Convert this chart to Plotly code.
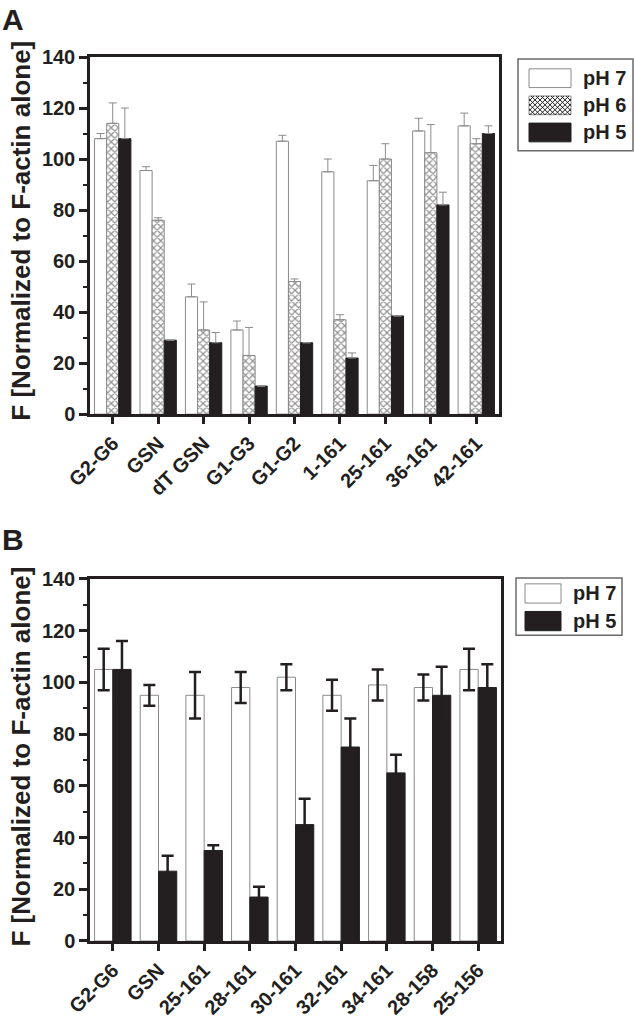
import plotly.graph_objects as go

# ---------------- data ----------------
categories_a = ["G2-G6", "GSN", "dT GSN", "G1-G3", "G1-G2", "1-161", "25-161", "36-161", "42-161"]
ph7_a = [108, 95.5, 46, 33, 107, 95, 91.5, 111, 113]
ph7_a_err = [2, 1.5, 5, 3.5, 2.3, 5, 6, 5, 5]
ph6_a = [114, 76, 33, 23, 52, 37, 100, 102.5, 106]
ph6_a_err = [8, 1, 11, 11, 1, 2, 6, 11, 2]
ph5_a = [108, 29, 28, 11, 28, 22, 38.5, 82, 110]
ph5_a_err = [12, None, 4, None, None, 2, None, 5, 3]

categories_b = ["G2-G6", "GSN", "25-161", "28-161", "30-161", "32-161", "34-161", "28-158", "25-156"]
ph7_b = [105, 95, 95, 98, 102, 95, 99, 98, 105]
ph7_b_err = [8, 4, 9, 6, 5, 6, 6, 5, 8]
ph5_b = [105, 27, 35, 17, 45, 75, 65, 95, 98]
ph5_b_err = [11, 6, 2, 4, 10, 11, 7, 11, 9]

series_a = ["pH 7", "pH 6", "pH 5"]
series_b = ["pH 7", "pH 5"]
y_ticks = [0, 20, 40, 60, 80, 100, 120, 140]
y_title = "F [Normalized to F-actin alone]"

# ---------------- layout geometry (pixels) ----------------
FIG_W, FIG_H = 634, 1031
L, R, T, B = 90, 501, 57, 953
PW, PH = R - L, B - T


def px_x(p):
    return (p - L) / PW


def px_y(p):
    return (B - p) / PH


INK = "#231f20"
GRAY = "#8a8a8a"
FONT = "Liberation Sans, Arial, Helvetica, sans-serif"

fig = go.Figure()

# ---------------- panel A ----------------
errA = dict(type="data", symmetric=False, color="#8c8c8c", thickness=1, width=4)
fig.add_trace(go.Bar(
    x=categories_a, y=ph7_a, name=series_a[0], xaxis="x", yaxis="y",
    marker=dict(color="white", line=dict(color=GRAY, width=1)),
    error_y=dict(errA, array=ph7_a_err, arrayminus=[0] * len(ph7_a)),
))
fig.add_trace(go.Bar(
    x=categories_a, y=ph6_a, name=series_a[1], xaxis="x", yaxis="y",
    marker=dict(color="white", line=dict(color=GRAY, width=1),
                pattern=dict(shape="x", fgcolor="#222222", bgcolor="white", size=5, solidity=0.42)),
    error_y=dict(errA, array=ph6_a_err, arrayminus=[0] * len(ph6_a)),
))
fig.add_trace(go.Bar(
    x=categories_a, y=ph5_a, name=series_a[2], xaxis="x", yaxis="y",
    marker=dict(color=INK, line=dict(color=INK, width=1)),
    error_y=dict(errA, array=ph5_a_err, arrayminus=[0] * len(ph5_a)),
))

# ---------------- panel B ----------------
errB = dict(type="data", symmetric=True, color=INK, thickness=2.5, width=6)
fig.add_trace(go.Bar(
    x=categories_b, y=ph7_b, name=series_b[0], xaxis="x2", yaxis="y2",
    marker=dict(color="white", line=dict(color=GRAY, width=1)),
    error_y=dict(errB, array=ph7_b_err),
))
fig.add_trace(go.Bar(
    x=categories_b, y=ph5_b, name=series_b[1], xaxis="x2", yaxis="y2",
    marker=dict(color=INK, line=dict(color=INK, width=1)),
    error_y=dict(errB, array=ph5_b_err),
))

tickfont = dict(family=FONT, size=20, color=INK, weight="bold")

common_x = dict(
    type="category", showline=True, linecolor=INK, linewidth=2.5, mirror=True,
    ticks="outside", ticklen=7, tickwidth=2.5, tickcolor=INK, tickangle=-45,
    tickfont=tickfont, showgrid=False, zeroline=False, fixedrange=True,
)
common_y = dict(
    range=[0, 140], tickvals=y_ticks, showline=True, linecolor=INK, linewidth=2.5, mirror=True,
    ticks="outside", ticklen=8, tickwidth=2.5, tickcolor=INK, tickfont=tickfont,
    minor=dict(dtick=10, ticks="outside", ticklen=4, tickwidth=2, tickcolor=INK),
    showgrid=False, zeroline=False, fixedrange=True,
)

domA_x = [0, px_x(499)]
domA_y = [px_y(419), 1]
domB_x = [0, 1]
domB_y = [0, px_y(586)]

bounds_a = [i + 0.5 for i in range(len(categories_a) - 1)]
bounds_b = [i + 0.5 for i in range(len(categories_b) - 1)]


def deco_x(overlay, anchor, bounds, n, side_ticks):
    return dict(overlaying=overlay, anchor=anchor, type="linear", range=[-0.5, n - 0.5],
                tickmode="array", tickvals=bounds, ticks=side_ticks, ticklen=4, tickwidth=2,
                tickcolor=INK, showticklabels=False, showline=False, showgrid=False,
                zeroline=False, fixedrange=True)


fig.update_layout(
    width=FIG_W, height=FIG_H,
    margin=dict(l=L, r=FIG_W - R, t=T, b=FIG_H - B),
    paper_bgcolor="white", plot_bgcolor="white",
    barmode="group", bargap=0.2, bargroupgap=0,
    showlegend=False,
    font=dict(family=FONT, color=INK),
    xaxis=dict(common_x, domain=domA_x, anchor="y", categoryarray=categories_a),
    yaxis=dict(common_y, domain=domA_y, anchor="x"),
    xaxis2=dict(common_x, domain=domB_x, anchor="y2", categoryarray=categories_b),
    yaxis2=dict(common_y, domain=domB_y, anchor="x2"),
    xaxis3=deco_x("x", "y", bounds_a, len(categories_a), "outside"),
    xaxis4=deco_x("x", "y", bounds_a, len(categories_a), "inside"),
    xaxis5=deco_x("x2", "y2", bounds_b, len(categories_b), "outside"),
    xaxis6=deco_x("x2", "y2", bounds_b, len(categories_b), "inside"),
    yaxis3=dict(overlaying="y", anchor="x", side="right", range=[0, 140],
                tickmode="array", tickvals=[10, 30, 50, 70, 90, 110, 130], ticks="inside",
                ticklen=5, tickwidth=2, tickcolor=INK, showticklabels=False,
                showline=False, showgrid=False, zeroline=False, fixedrange=True),
)

# ---------------- titles / panel letters ----------------
annos = []
annos.append(dict(text="<b>A</b>", x=px_x(0), y=px_y(19), xref="paper", yref="paper",
                  xanchor="left", yanchor="middle", showarrow=False,
                  font=dict(family=FONT, size=30, color=INK)))
annos.append(dict(text="<b>B</b>", x=px_x(0), y=px_y(546), xref="paper", yref="paper",
                  xanchor="left", yanchor="middle", showarrow=False,
                  font=dict(family=FONT, size=30, color=INK)))
for yc in (233, 766):
    annos.append(dict(text="<b>" + y_title + "</b>", x=px_x(21), y=px_y(yc), xref="paper", yref="paper",
                      xanchor="center", yanchor="middle", textangle=-90, showarrow=False,
                      font=dict(family=FONT, size=26, color=INK)))

# ---------------- manual legends ----------------
shapes = []


def rect(x0, y0, x1, y1, fill, line_color, lw):
    shapes.append(dict(type="rect", xref="paper", yref="paper",
                       x0=px_x(x0), x1=px_x(x1), y0=px_y(y1), y1=px_y(y0),
                       fillcolor=fill, line=dict(color=line_color, width=lw), layer="above"))


def hatch(x0, y0, x1, y1, step=5):
    w, h = x1 - x0, y1 - y0
    segs = []
    k = -w
    while k <= h:
        a, b = max(0, -k), min(w, h - k)
        if b > a:
            segs.append(((a, a + k), (b, b + k)))
        k += step
    k = 0
    while k <= w + h:
        a, b = max(0, k - h), min(w, k)
        if b > a:
            segs.append(((a, k - a), (b, k - b)))
        k += step
    path = ""
    for (ax, ay), (bx, by) in segs:
        path += "M%.5f,%.5f L%.5f,%.5f " % (px_x(x0 + ax), px_y(y0 + ay), px_x(x0 + bx), px_y(y0 + by))
    shapes.append(dict(type="path", xref="paper", yref="paper", path=path,
                       line=dict(color="#222222", width=1), layer="above"))


# legend A
rect(518, 59, 633, 152, "white", "#6a6a6a", 1.5)
styles_a = ["white", "hatch", "black"]
for i, (name, st) in enumerate(zip(series_a, styles_a)):
    top = 69 + i * 27.5
    if st == "black":
        rect(529, top, 571, top + 19, INK, INK, 1)
    else:
        rect(529, top, 571, top + 19, "white", GRAY, 1)
        if st == "hatch":
            hatch(529, top, 571, top + 19)
    annos.append(dict(text="<b>" + name + "</b>", x=px_x(581), y=px_y(top + 9.5), xref="paper", yref="paper",
                      xanchor="left", yanchor="middle", showarrow=False,
                      font=dict(family=FONT, size=20, color=INK)))

# legend B
rect(516, 585, 622, 643, "white", "#6a6a6a", 1.5)
styles_b = ["white", "black"]
for i, (name, st) in enumerate(zip(series_b, styles_b)):
    top = 591 + i * 28
    if st == "black":
        rect(525, top, 561, top + 19.5, INK, INK, 1)
    else:
        rect(525, top, 561, top + 19.5, "white", GRAY, 1)
    annos.append(dict(text="<b>" + name + "</b>", x=px_x(571), y=px_y(top + 9.5), xref="paper", yref="paper",
                      xanchor="left", yanchor="middle", showarrow=False,
                      font=dict(family=FONT, size=20, color=INK)))

fig.update_layout(annotations=annos, shapes=shapes)

fig.write_html("out.html", config={"displayModeBar": False},
               post_script="document.body.style.margin='0px';")
